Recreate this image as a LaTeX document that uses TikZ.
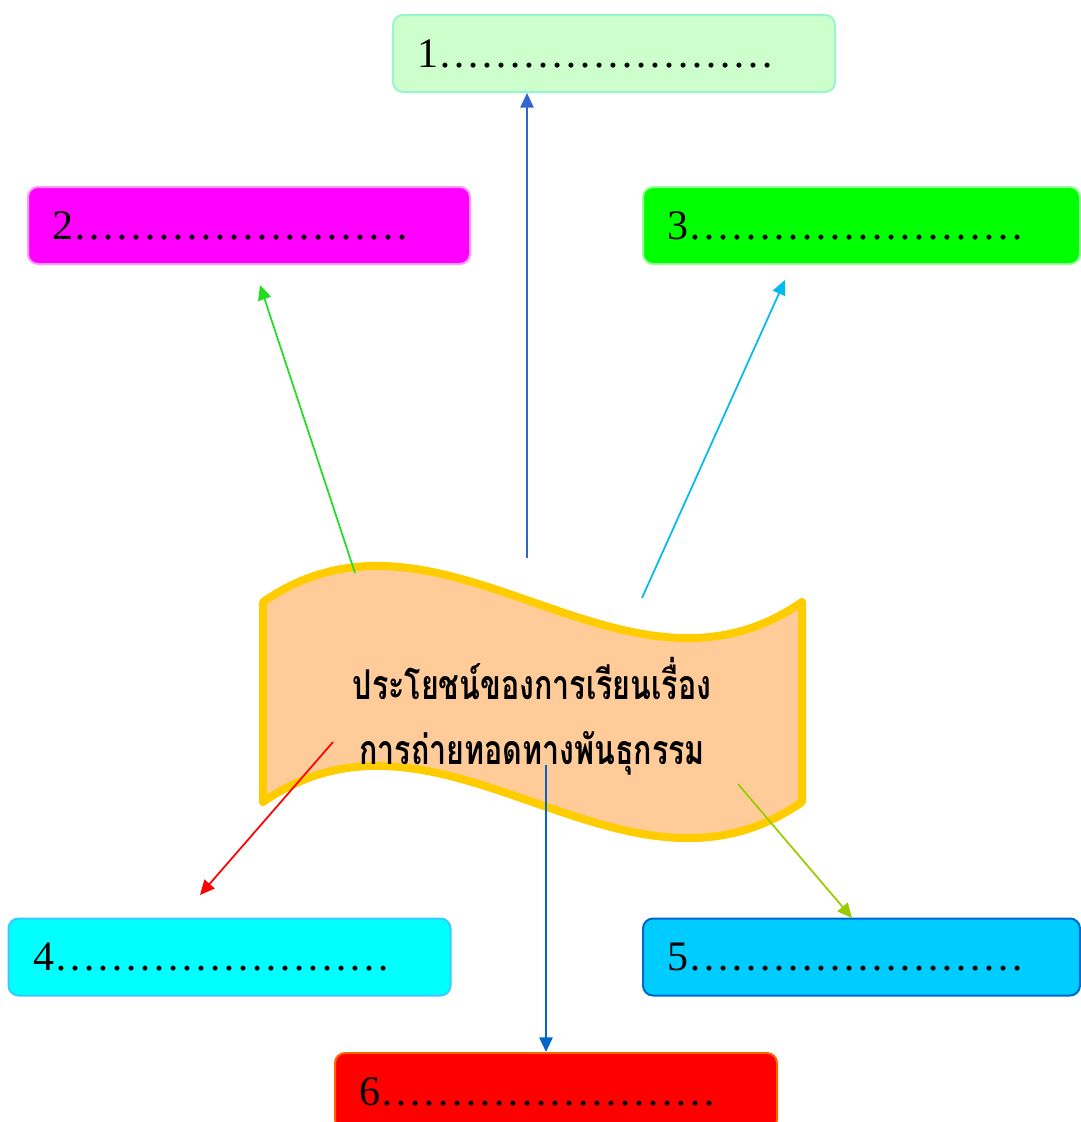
\documentclass[tikz,border=0pt]{standalone}
\usepackage{fontspec}
\usepackage{graphicx}
\setmainfont{Liberation Serif}
\newfontfamily\thaifont[Script=Thai]{Loma}
\usetikzlibrary{positioning,arrows.meta}
\definecolor{mintfill}{HTML}{CCFFCC}
\definecolor{mintline}{HTML}{99F5CC}
\definecolor{pinkfill}{HTML}{FF00FF}
\definecolor{pinkline}{HTML}{FF99FF}
\definecolor{limefill}{HTML}{00FF00}
\definecolor{limeline}{HTML}{99FF99}
\definecolor{cyanfill}{HTML}{00FFFF}
\definecolor{cyanline}{HTML}{33CCFF}
\definecolor{skyfill}{HTML}{00CCFF}
\definecolor{skyline}{HTML}{0066CC}
\definecolor{redfill}{HTML}{FF0000}
\definecolor{redline}{HTML}{FF6600}
\definecolor{wavefill}{HTML}{FFCC99}
\definecolor{waveline}{HTML}{FFCC00}
\definecolor{arrowblue}{HTML}{3366CC}
\definecolor{arrowgreen}{HTML}{22DD22}
\definecolor{arrowcyan}{HTML}{00BBEE}
\definecolor{arrowred}{HTML}{FF0000}
\definecolor{arrowolive}{HTML}{99CC00}
\definecolor{arrowdeep}{HTML}{0066CC}
\newcommand{\blanks}{……………………}
\newcommand{\tallline}[1]{\scalebox{1}[1.35]{#1}}

\begin{document}
\begin{tikzpicture}[x=0.75pt, y=-0.75pt,
    card/.style={draw, line width=1.5pt, rounded corners=7.5pt, minimum height=57.75pt,
      inner xsep=18.5pt, text width=294.5pt, align=left, font=\fontsize{31.5}{36}\selectfont},
    link/.style={-{Triangle[length=11pt,width=10pt]}, line width=1.3pt}]
  \clip (0,0) rectangle (1081,1122);
  \node[card, fill=mintfill, draw=mintline] (b1) at (614,53.5) {1\blanks};
  \node[card, fill=pinkfill, draw=pinkline] (b2) at (249,225.5) {2\blanks};
  \node[card, fill=limefill, draw=limeline, text width=290.75pt] (b3) at (861.5,225.5) {3\blanks};
  \node[card, fill=cyanfill, draw=cyanline] (b4) at (229.5,957) {4\blanks};
  \node[card, fill=skyfill, draw=skyline, text width=290.75pt] (b5) at (861.5,957) {5\blanks};
  \node[card, fill=redfill, draw=redline] (b6) at (556,1091.5) {6\blanks};

  \draw[fill=wavefill, draw=waveline, line width=6pt, line join=round]
    (263,602) .. controls (443,477) and (622,727) .. (802,602) -- (802,802)
    .. controls (622,927) and (443,677) .. (263,802) -- cycle;
  \node[font=\thaifont\bfseries\fontsize{22.8}{49}\selectfont, align=center] (title) at (532,716)
    {\tallline{ประโยชน์ของการเรียนเรื่อง}\\\tallline{การถ่ายทอดทางพันธุกรรม}};

  \coordinate (s1) at (527,558);
  \coordinate (e1) at (s1 |- b1.south);
  \coordinate (s2) at (355,573);
  \coordinate (e2) at (260,285);
  \coordinate (s3) at (642,598);
  \coordinate (e3) at (785,280);
  \coordinate (s4) at (333,742);
  \coordinate (e4) at (200,895);
  \coordinate (s5) at (738,784);
  \coordinate (e5) at (852,918);
  \coordinate (s6) at (546,765);
  \coordinate (e6) at (s6 |- b6.north);
  \foreach \a/\b/\c in {s1/e1/arrowblue,s2/e2/arrowgreen,s3/e3/arrowcyan,s4/e4/arrowred,s5/e5/arrowolive,s6/e6/arrowdeep}
    \draw[link, \c] (\a) -- (\b);
\end{tikzpicture}
\end{document}
